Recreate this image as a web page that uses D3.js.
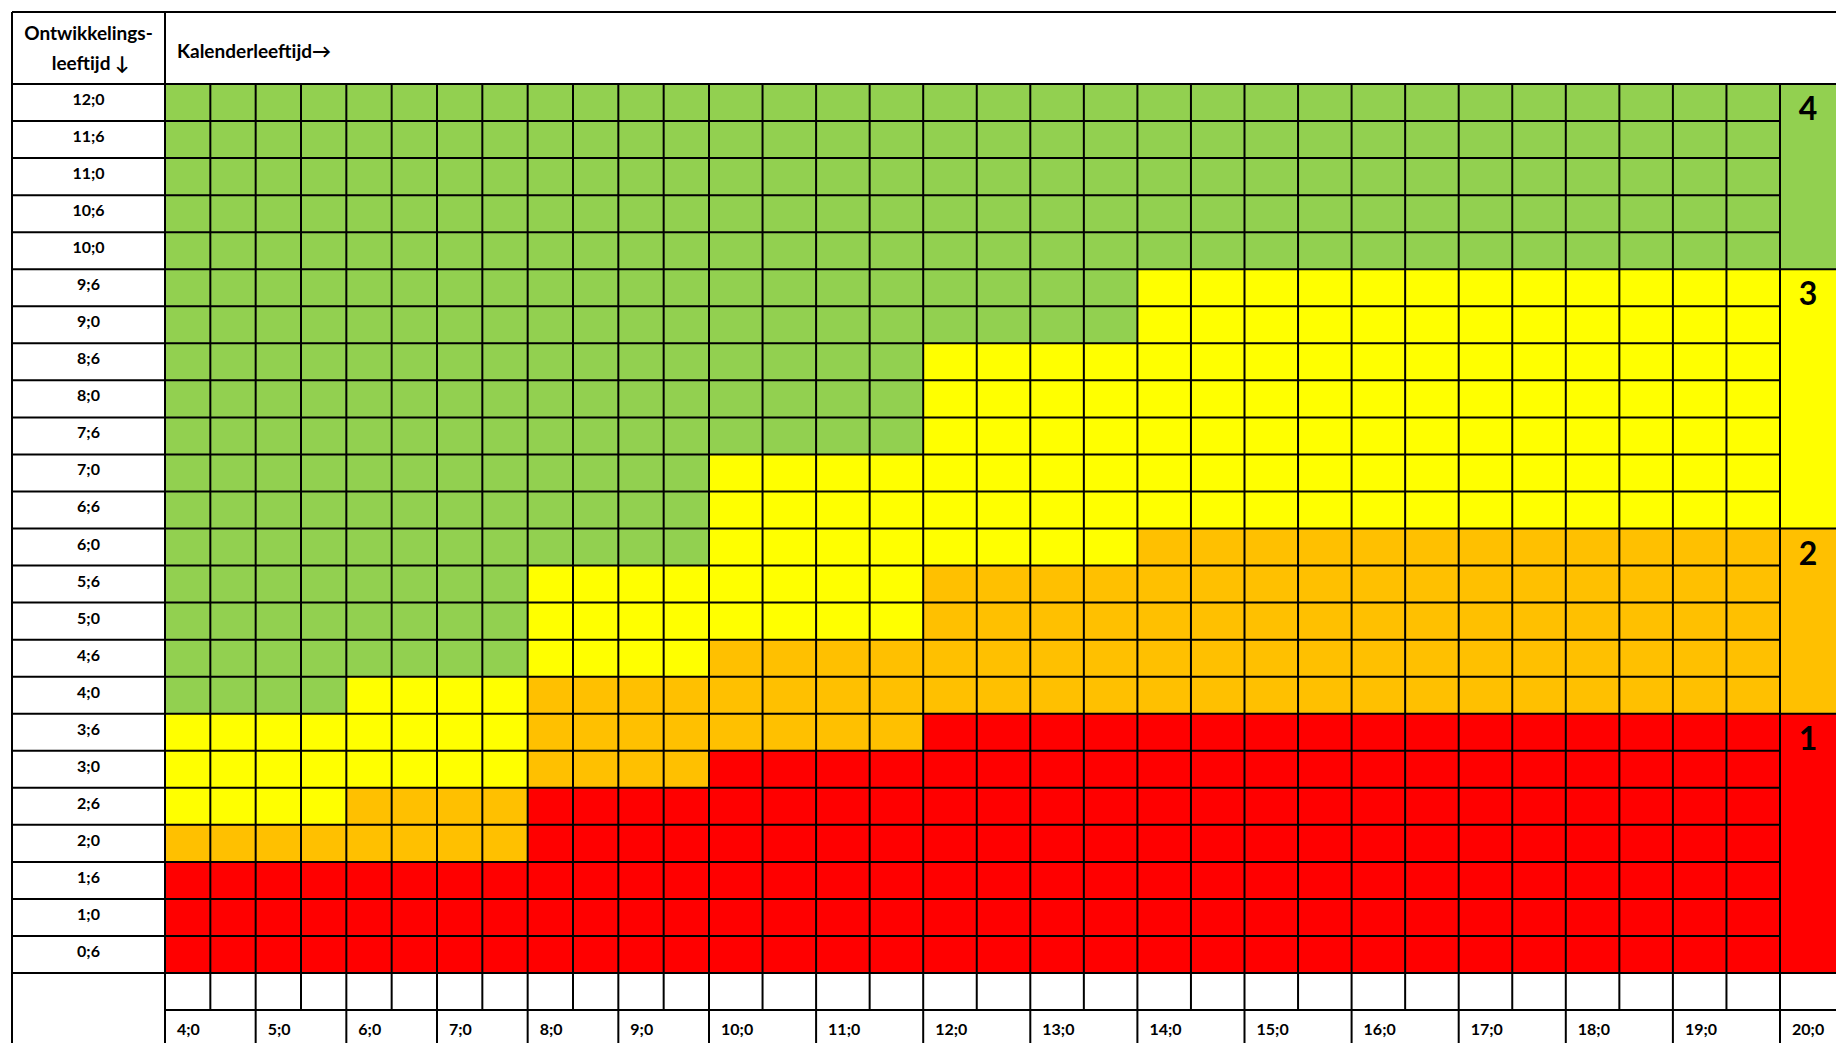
<!DOCTYPE html>
<html>
<head>
<meta charset="utf-8">
<script src="https://cdn.jsdelivr.net/npm/d3@7"></script>
<style>
  body { margin: 0; background: #fff; }
  svg text { font-family: Lato, "Open Sans", sans-serif; font-weight: 700; fill: #000; }
</style>
</head>
<body>
<svg id="chart" width="1836" height="1043"></svg>
<script>
// development age (rows, top to bottom)
const devAges = ["12;0", "11;6", "11;0", "10;6", "10;0", "9;6", "9;0", "8;6", "8;0", "7;6", "7;0", "6;6",
                 "6;0", "5;6", "5;0", "4;6", "4;0", "3;6", "3;0", "2;6", "2;0", "1;6", "1;0", "0;6"];

// calendar age (columns, half years)
const calAges = ["4;0", "4;6", "5;0", "5;6", "6;0", "6;6", "7;0", "7;6", "8;0", "8;6", "9;0", "9;6",
                 "10;0", "10;6", "11;0", "11;6", "12;0", "12;6", "13;0", "13;6", "14;0", "14;6", "15;0", "15;6",
                 "16;0", "16;6", "17;0", "17;6", "18;0", "18;6", "19;0", "19;6"];

// labels under the grid
const calTicks = ["4;0", "5;0", "6;0", "7;0", "8;0", "9;0", "10;0", "11;0", "12;0", "13;0",
                  "14;0", "15;0", "16;0", "17;0", "18;0", "19;0", "20;0"];

// zone per cell, one string per row, one char per column
const zoneRows = [
  "44444444444444444444444444444444", // 12;0
  "44444444444444444444444444444444", // 11;6
  "44444444444444444444444444444444", // 11;0
  "44444444444444444444444444444444", // 10;6
  "44444444444444444444444444444444", // 10;0
  "44444444444444444444333333333333", // 9;6
  "44444444444444444444333333333333", // 9;0
  "44444444444444443333333333333333", // 8;6
  "44444444444444443333333333333333", // 8;0
  "44444444444444443333333333333333", // 7;6
  "44444444444433333333333333333333", // 7;0
  "44444444444433333333333333333333", // 6;6
  "44444444444433333333222222222222", // 6;0
  "44444444333333332222222222222222", // 5;6
  "44444444333333332222222222222222", // 5;0
  "44444444333322222222222222222222", // 4;6
  "44443333222222222222222222222222", // 4;0
  "33333333222222221111111111111111", // 3;6
  "33333333222211111111111111111111", // 3;0
  "33332222111111111111111111111111", // 2;6
  "22222222111111111111111111111111", // 2;0
  "11111111111111111111111111111111", // 1;6
  "11111111111111111111111111111111", // 1;0
  "11111111111111111111111111111111"  // 0;6
];

const zoneKeys = ["4", "3", "2", "1"];
const zoneColors = ["#92D050", "#FFFF00", "#FFC000", "#FF0000"];
const zoneFrom = ["12;0", "9;6", "6;0", "3;6"];
const zoneTo = ["10;0", "6;6", "4;0", "0;6"];

const W = 1836, H = 1043;
const leftX = 12, topY = 12, headBottom = 84, labelRight = 165;

const parseAge = s => {
  const [yr, mo] = s.split(";").map(Number);
  return yr + mo / 12;
};

const svg = d3.select("#chart");

const y = d3.scaleBand().domain(devAges).range([headBottom, 973]);
const rowH = y.bandwidth();
const gridBottom = y.range()[1];
const tickTop = gridBottom + rowH;

// younger years have narrower columns in the original sheet
const x = d3.scaleLinear().domain([4, 10, 20]).range([labelRight, 709, 1780]);
const zoneColor = d3.scaleOrdinal().domain(zoneKeys).range(zoneColors);

// cells
const cells = [];
devAges.forEach((d, r) => {
  calAges.forEach((c, i) => {
    cells.push({ row: d, age: parseAge(c), zone: zoneRows[r][i] });
  });
});

svg.append("g").selectAll("rect")
  .data(cells)
  .join("rect")
  .attr("x", d => x(d.age))
  .attr("y", d => y(d.row))
  .attr("width", d => x(d.age + 0.5) - x(d.age))
  .attr("height", rowH)
  .attr("fill", d => zoneColor(d.zone));

// legend column on the right
const legend = svg.append("g");
legend.selectAll("rect")
  .data(zoneKeys)
  .join("rect")
  .attr("x", x(20))
  .attr("y", (d, i) => y(zoneFrom[i]))
  .attr("width", W - x(20))
  .attr("height", (d, i) => y(zoneTo[i]) + rowH - y(zoneFrom[i]))
  .attr("fill", d => zoneColor(d));

legend.selectAll("text")
  .data(zoneKeys)
  .join("text")
  .attr("x", (x(20) + W) / 2)
  .attr("y", (d, i) => y(zoneFrom[i]) + 36)
  .attr("text-anchor", "middle")
  .style("font-size", "32px")
  .text(d => d);

// grid lines
const lines = svg.append("g")
  .attr("stroke", "#000")
  .attr("stroke-width", 2);

const hline = (yy, x1, x2) => lines.append("line").attr("x1", x1).attr("x2", x2).attr("y1", yy).attr("y2", yy);
const vline = (xx, y1, y2) => lines.append("line").attr("x1", xx).attr("x2", xx).attr("y1", y1).attr("y2", y2);

hline(topY, leftX, W);
hline(headBottom, leftX, W);
devAges.forEach(d => hline(y(d) + rowH, leftX, x(20)));
zoneFrom.forEach(d => hline(y(d), x(20), W));
hline(gridBottom, x(20), W);
hline(tickTop, labelRight, W);

vline(leftX, topY, H);
vline(labelRight, topY, H);
calAges.forEach(c => {
  const a = parseAge(c);
  vline(x(a), headBottom, Number.isInteger(a) ? H : tickTop);
});
vline(x(20), headBottom, H);

// row labels
svg.append("g").selectAll("text")
  .data(devAges)
  .join("text")
  .attr("x", (leftX + labelRight) / 2)
  .attr("y", d => y(d) + 21)
  .attr("text-anchor", "middle")
  .style("font-size", "16px")
  .text(d => d);

// calendar age labels
svg.append("g").selectAll("text")
  .data(calTicks)
  .join("text")
  .attr("x", d => x(parseAge(d)) + 12)
  .attr("y", tickTop + 25)
  .style("font-size", "16px")
  .text(d => d);

// header
const head = svg.append("g").style("font-size", "19px");
head.append("text")
  .attr("x", (leftX + labelRight) / 2)
  .attr("y", 40)
  .attr("text-anchor", "middle")
  .text("Ontwikkelings-");
head.append("text")
  .attr("x", (leftX + labelRight) / 2 + 2)
  .attr("y", 70)
  .attr("text-anchor", "middle")
  .text("leeftijd  \u2193");
head.append("text")
  .attr("x", 177)
  .attr("y", 58)
  .text("Kalenderleeftijd\u2192");
</script>
</body>
</html>
